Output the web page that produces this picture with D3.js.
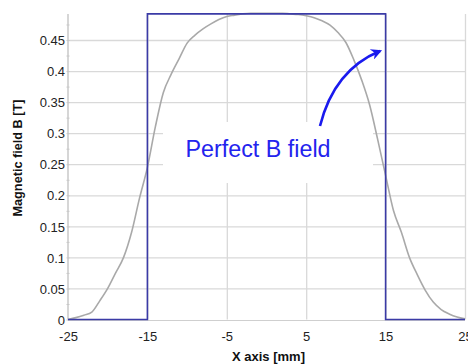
<!DOCTYPE html>
<html>
<head>
<meta charset="utf-8">
<script src="https://cdn.jsdelivr.net/npm/d3@7"></script>
<style>
  html, body { margin: 0; padding: 0; background: #fff; }
  svg { display: block; font-family: "Liberation Sans", Arial, sans-serif; }
</style>
</head>
<body>
<svg id="chart" width="468" height="364"></svg>
<script>
// Measured field profile along the magnet axis
const positions = [-25,-24,-23,-22,-21,-20,-19,-18,-17,-16,-15,-14,-13,-12,-11,-10,-9,-8,-7,-6,-5,-4,-3,-2,-1,0,1,2,3,4,5,6,7,8,9,10,11,12,13,14,15,16,17,18,19,20,21,22,23,24,25];
const measuredB = [0,0.003,0.007,0.012,0.03,0.05,0.075,0.10,0.14,0.195,0.245,0.31,0.365,0.395,0.42,0.445,0.458,0.468,0.476,0.483,0.488,0.49,0.492,0.493,0.493,0.493,0.493,0.493,0.492,0.491,0.489,0.486,0.481,0.474,0.462,0.446,0.418,0.385,0.345,0.29,0.232,0.175,0.14,0.10,0.072,0.047,0.028,0.016,0.009,0.004,0.001];

// Ideal rectangular profile
const idealX = [-25, -15, -15, 15, 15, 25];
const idealB = [0, 0, 0.492, 0.492, 0, 0];

const xTicks = [-25, -15, -5, 5, 15, 25];
const yTicks = [0, 0.05, 0.1, 0.15, 0.2, 0.25, 0.3, 0.35, 0.4, 0.45];

const labelText = "Perfect B field";
const xTitle = "X axis [mm]";
const yTitle = "Magnetic field B [T]";

const svg = d3.select("#chart");
const plotL = 68, plotR = 465, plotT = 14, plotB = 319.5;

const x = d3.scaleLinear().domain([-25, 25]).range([plotL, plotR]);
const y = d3.scaleLinear().domain([0, 0.45]).range([plotB, 40]);

const grid = "#d9d9d9";

// horizontal gridlines
svg.append("g")
  .attr("transform", `translate(${plotL},0)`)
  .call(d3.axisLeft(y).tickValues(yTicks.slice(1)).tickSize(-(plotR - plotL)).tickFormat(""))
  .call(g => g.select(".domain").remove())
  .call(g => g.selectAll("line").attr("stroke", grid).attr("stroke-width", 1.3));

// vertical gridlines
svg.append("g")
  .attr("transform", `translate(0,${plotB})`)
  .call(d3.axisBottom(x).tickValues(xTicks.slice(1)).tickSize(-(plotB - plotT)).tickFormat(""))
  .call(g => g.select(".domain").remove())
  .call(g => g.selectAll("line").attr("stroke", grid).attr("stroke-width", 1.3));

// white panel behind the annotation
svg.append("rect")
  .attr("x", 163).attr("y", 122).attr("width", 210).attr("height", 61)
  .attr("fill", "#fff");

// y axis line with minor ticks
const yAxis = svg.append("g")
  .attr("transform", `translate(${plotL},0)`)
  .call(d3.axisLeft(y).tickValues(d3.range(0, 0.49, 0.025)).tickSize(3).tickFormat(""));
yAxis.select(".domain").attr("d", `M0,${plotT}V${plotB}`).attr("stroke", "#c8c8c8").attr("stroke-width", 1.5);
yAxis.selectAll("line").attr("stroke", "#c8c8c8").attr("transform", "translate(1.5,0)");

// x axis baseline
svg.append("line")
  .attr("x1", plotL).attr("x2", plotR).attr("y1", plotB + 1).attr("y2", plotB + 1)
  .attr("stroke", "#cfcfcf").attr("stroke-width", 1.2);

// tick labels (plain hyphen for negatives)
svg.append("g")
  .attr("transform", `translate(${plotL - 3},0)`)
  .call(d3.axisLeft(y).tickValues(yTicks).tickSize(0).tickPadding(0).tickFormat(d => String(d)))
  .call(g => g.select(".domain").remove())
  .call(g => g.selectAll("text").attr("font-size", 13).attr("fill", "#222")
    .attr("font-family", "'Liberation Sans', Arial, sans-serif").attr("dy", "0.36em"));

svg.append("g")
  .attr("transform", `translate(0,${plotB})`)
  .call(d3.axisBottom(x).tickValues(xTicks).tickSize(0).tickPadding(0).tickFormat(d => String(d)))
  .call(g => g.select(".domain").remove())
  .call(g => g.selectAll("text").attr("font-size", 13).attr("fill", "#222")
    .attr("font-family", "'Liberation Sans', Arial, sans-serif").attr("dy", "1.62em"));

// measured curve
const lineGen = d3.line().x(d => x(d[0])).y(d => y(d[1])).curve(d3.curveMonotoneX);
svg.append("path")
  .datum(positions.map((p, i) => [p, measuredB[i]]))
  .attr("d", lineGen)
  .attr("fill", "none").attr("stroke", "#a9a9a9").attr("stroke-width", 1.6);

// ideal curve
const idealGen = d3.line().x(d => x(d[0])).y(d => y(d[1]));
svg.append("path")
  .datum(idealX.map((p, i) => [p, idealB[i]]))
  .attr("d", idealGen)
  .attr("fill", "none").attr("stroke", "#3b3ba6").attr("stroke-width", 1.6);

// annotation
svg.append("text")
  .attr("x", 258).attr("y", 157)
  .attr("text-anchor", "middle")
  .attr("font-size", 23.3)
  .attr("fill", "#2323ee")
  .text(labelText);

const defs = svg.append("defs");
defs.append("marker")
  .attr("id", "head").attr("viewBox", "0 0 10 10")
  .attr("refX", 8).attr("refY", 5)
  .attr("markerWidth", 13).attr("markerHeight", 11)
  .attr("markerUnits", "userSpaceOnUse")
  .attr("orient", "auto")
  .append("path").attr("d", "M0,0L10,5L0,10L3,5Z").attr("fill", "#1a1aee");

svg.append("path")
  .attr("d", "M320,126 Q334,70 380,51")
  .attr("fill", "none").attr("stroke", "#1a1aee").attr("stroke-width", 2.6)
  .attr("marker-end", "url(#head)");

// axis titles
svg.append("text")
  .attr("x", (plotL + plotR) / 2 + 2).attr("y", 361)
  .attr("text-anchor", "middle").attr("font-size", 13).attr("font-weight", "bold").attr("fill", "#111")
  .text(xTitle);

svg.append("text")
  .attr("transform", "translate(22,158) rotate(-90)")
  .attr("text-anchor", "middle").attr("font-size", 12.7).attr("font-weight", "bold").attr("fill", "#111")
  .text(yTitle);
</script>
</body>
</html>
